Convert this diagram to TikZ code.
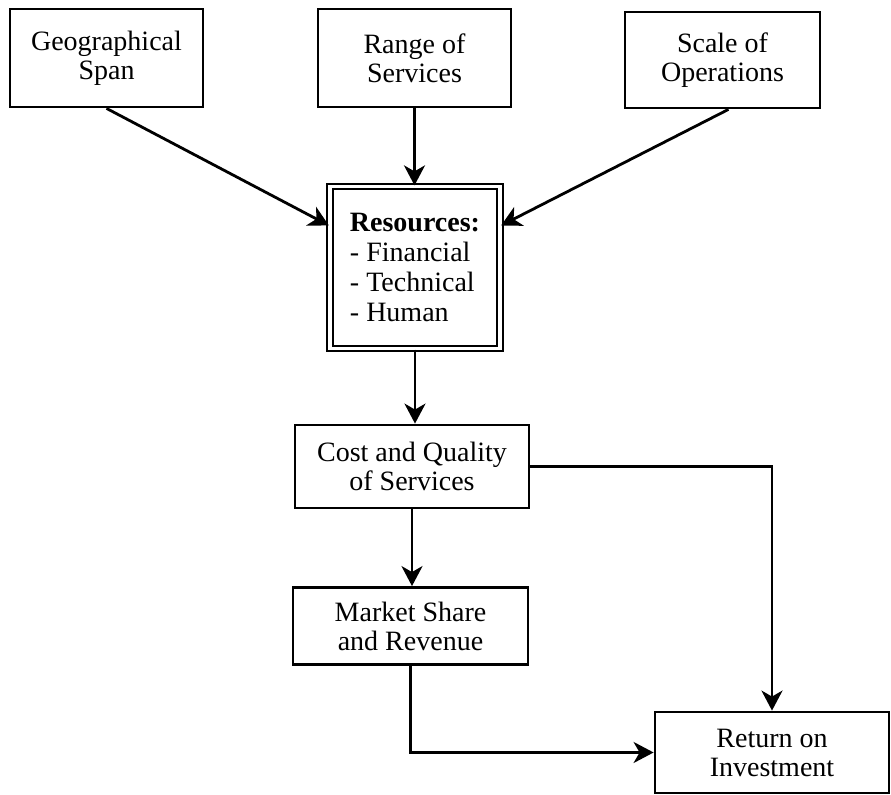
\documentclass[tikz,border=0pt]{standalone}
\usepackage{fontspec}
\setmainfont{Liberation Serif}
\usepackage{tikz}
\usetikzlibrary{arrows.meta}

\tikzset{
  blk/.style={draw,line width=1.4pt,align=center,inner sep=0pt,
    font=\fontsize{14}{14.5}\selectfont},
  resblk/.style={draw,double,line width=1.1pt,double distance=1.7pt,align=left,
    inner sep=0pt,font=\fontsize{14}{15}\selectfont},
  link/.style={->,line width=1.4pt}
}

\begin{document}
\begin{tikzpicture}[x=0.5pt,y=-0.5pt,>={Stealth[length=10pt,width=10.5pt,inset=3pt]}]
          \useasboundingbox (0,0) rectangle (891,795);

          \node[blk,minimum width=96.5pt,minimum height=49pt] (geo) at (106.5,58) {Geographical\\Span};
          \node[blk,minimum width=96.5pt,minimum height=49pt] (range) at (414.5,58) {Range of\\Services};
          \node[blk,minimum width=97.5pt,minimum height=48pt] (scale) at (722.5,60) {Scale of\\Operations};

          \node[resblk,minimum width=85pt,minimum height=81pt] (res) at (415,267.5)
            {\textbf{Resources:}\\- Financial\\- Technical\\- Human};

          \node[blk,minimum width=117pt,minimum height=41.5pt] (cost) at (412,466.5) {Cost and Quality\\of Services};
          \node[blk,minimum width=117.5pt,minimum height=38.5pt] (mkt) at (410.5,626) {Market Share\\and Revenue};
          \node[blk,minimum width=117pt,minimum height=40.5pt] (roi) at (772,752.5) {Return on\\Investment};

          \draw[link] (geo.south) -- ([yshift=21pt]res.west);
          \draw[link] (range.south) -- (range.south |- res.north);
          \draw[link] ([xshift=3pt]scale.south) -- ([yshift=21pt]res.east);

          \draw[link] (res.south) -- (res.south |- cost.north);
          \draw[link] (cost.south) -- (cost.south |- mkt.north);
          \draw[link] (cost.east) -| (roi.north);
          \draw[link] (mkt.south) |- (roi.west);
        \end{tikzpicture}
\end{document}
